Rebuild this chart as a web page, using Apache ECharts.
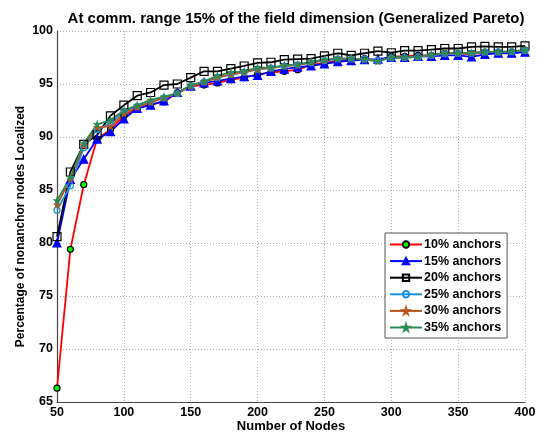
<!DOCTYPE html>
<html>
<head>
<meta charset="utf-8">
<script src="https://cdn.jsdelivr.net/npm/echarts@6/dist/echarts.min.js"></script>
<style>
  html, body { margin: 0; padding: 0; background: #fff; }
  #chart { width: 544px; height: 435px; }
</style>
</head>
<body>
<div id="chart"></div>
<script>
// Number of nodes (x) and localization percentage for each anchor ratio
const nodes = [50,60,70,80,90,100,110,120,130,140,150,160,170,180,190,200,210,220,230,240,250,260,270,280,290,300,310,320,330,340,350,360,370,380,390,400];

const anchors10 = [66.3,79.4,85.5,89.8,90.7,92.0,92.7,93.1,93.3,94.2,94.8,94.9,95.1,95.4,95.6,95.9,96.1,96.2,96.35,96.8,97.0,97.2,97.3,97.4,97.2,97.6,97.6,97.7,97.7,97.9,97.9,97.8,98.0,98.0,98.0,98.2];
const anchors15 = [80.0,86.0,87.9,89.8,90.5,91.7,92.7,93.0,93.4,94.2,94.8,95.1,95.3,95.5,95.7,95.8,96.2,96.4,96.6,96.7,96.9,97.1,97.2,97.3,97.35,97.5,97.5,97.6,97.6,97.7,97.7,97.55,97.8,97.9,97.9,98.0];
const anchors20 = [80.6,86.7,89.3,90.2,92.0,93.0,93.9,94.2,94.9,95.0,95.6,96.2,96.2,96.45,96.7,97.0,97.05,97.3,97.35,97.4,97.65,97.9,97.7,97.9,98.1,97.95,98.15,98.15,98.25,98.35,98.35,98.5,98.55,98.5,98.5,98.6];
const anchors25 = [83.1,85.4,89.0,90.7,91.3,92.4,92.9,93.3,93.7,94.1,94.8,95.2,95.6,95.9,96.1,96.4,96.5,96.7,96.8,97.0,97.2,97.35,97.35,97.35,97.2,97.45,97.5,97.55,97.7,97.85,97.9,97.9,98.0,98.0,98.05,98.15];
const anchors30 = [83.6,86.0,89.2,90.9,91.0,92.2,92.8,93.3,93.7,94.1,94.8,95.2,95.6,95.9,96.1,96.4,96.5,96.7,96.8,97.05,97.25,97.4,97.4,97.3,97.15,97.5,97.5,97.55,97.75,97.9,97.9,97.95,98.0,98.0,98.1,98.2];
const anchors35 = [84.0,86.2,89.4,91.2,91.6,92.5,93.0,93.5,93.8,94.15,94.9,95.25,95.8,96.1,96.2,96.55,96.55,96.75,96.85,97.1,97.3,97.4,97.4,97.3,97.15,97.5,97.5,97.55,97.77,97.93,97.93,97.93,98.02,98.02,98.08,98.18];

const seriesNames = ['10% anchors','15% anchors','20% anchors','25% anchors','30% anchors','35% anchors'];

const titleText = 'At comm. range 15% of the field dimension (Generalized Pareto)';
const xAxisName = 'Number of Nodes';
const yAxisName = 'Percentage of nonanchor nodes Localized';

const FONT = '"Liberation Sans", Arial, sans-serif';
const star = 'path://M50,0 L61,35 L98,35 L68,57 L79,91 L50,70 L21,91 L32,57 L2,35 L39,35 Z';

function pairs(vals) { return nodes.map((n, i) => [n, vals[i]]); }

function mkSeries(name, vals, lineColor, symbol, size, fill, border) {
  return {
    name: name,
    type: 'line',
    data: pairs(vals),
    symbol: symbol,
    symbolSize: size,
    showSymbol: true,
    lineStyle: { color: lineColor, width: 1.8 },
    itemStyle: { color: fill, borderColor: border, borderWidth: 1.2 },
    emphasis: { disabled: true },
    animation: false
  };
}

const chart = echarts.init(document.getElementById('chart'), null, { renderer: 'canvas' });

chart.setOption({
  backgroundColor: '#fff',
  animation: false,
  title: {
    text: titleText,
    left: 291, textAlign: 'center',
    top: 6,
    textStyle: { fontFamily: FONT, fontSize: 15, fontWeight: 'bold', color: '#000' }
  },
  grid: { left: 57, right: 19, top: 31, bottom: 33, containLabel: false, outerBoundsMode: 'none' },
  legend: {
    orient: 'vertical',
    left: 385, top: 233,
    width: 134,
    backgroundColor: '#fff',
    borderColor: '#555',
    borderWidth: 1,
    padding: [5, 6, 4, 4],
    itemGap: 3.6,
    itemWidth: 32, itemHeight: 8,
    textStyle: { fontFamily: FONT, fontSize: 12.5, fontWeight: 'bold', color: '#000', padding: [0, 0, 0, -3] },
    data: seriesNames
  },
  xAxis: {
    type: 'value',
    min: 50, max: 400, interval: 50,
    name: xAxisName,
    nameLocation: 'middle',
    nameGap: 18,
    nameMoveOverlap: false,
    nameTextStyle: { fontFamily: FONT, fontSize: 13, fontWeight: 'bold', color: '#000', verticalAlign: 'top' },
    axisLine: { show: true, lineStyle: { color: '#444', width: 1.2 } },
    axisTick: { show: false },
    axisLabel: { fontFamily: FONT, fontSize: 12.5, fontWeight: 'bold', color: '#000', margin: 4 },
    splitLine: { show: true, lineStyle: { color: '#b0b0b0', type: [1, 2], width: 1 } }
  },
  yAxis: {
    type: 'value',
    min: 65, max: 100, interval: 5,
    name: yAxisName,
    nameLocation: 'middle',
    nameGap: 30,
    nameMoveOverlap: false,
    nameTextStyle: { fontFamily: FONT, fontSize: 12, fontWeight: 'bold', color: '#000', padding: [0, 20, 0, 0] },
    axisLine: { show: true, lineStyle: { color: '#444', width: 1.2 } },
    axisTick: { show: false },
    axisLabel: { fontFamily: FONT, fontSize: 12.5, fontWeight: 'bold', color: '#000', margin: 4 },
    splitLine: { show: true, lineStyle: { color: '#b0b0b0', type: [1, 2], width: 1 } }
  },
  series: [
    mkSeries(seriesNames[0], anchors10, '#ff0000', 'circle', 6, '#00ff00', '#000'),
    mkSeries(seriesNames[1], anchors15, '#0000ff', 'triangle', 8, '#0000ff', '#0000ff'),
    mkSeries(seriesNames[2], anchors20, '#000000', 'rect', 8, 'rgba(255,255,255,0)', '#000'),
    mkSeries(seriesNames[3], anchors25, '#1e90e0', 'circle', 6, 'rgba(255,255,255,0)', '#1e90e0'),
    mkSeries(seriesNames[4], anchors30, '#b5541c', star, 5, '#b5541c', '#b5541c'),
    mkSeries(seriesNames[5], anchors35, '#2e8b57', star, 5.5, '#2e8b57', '#2e8b57')
  ]
});
</script>
</body>
</html>
